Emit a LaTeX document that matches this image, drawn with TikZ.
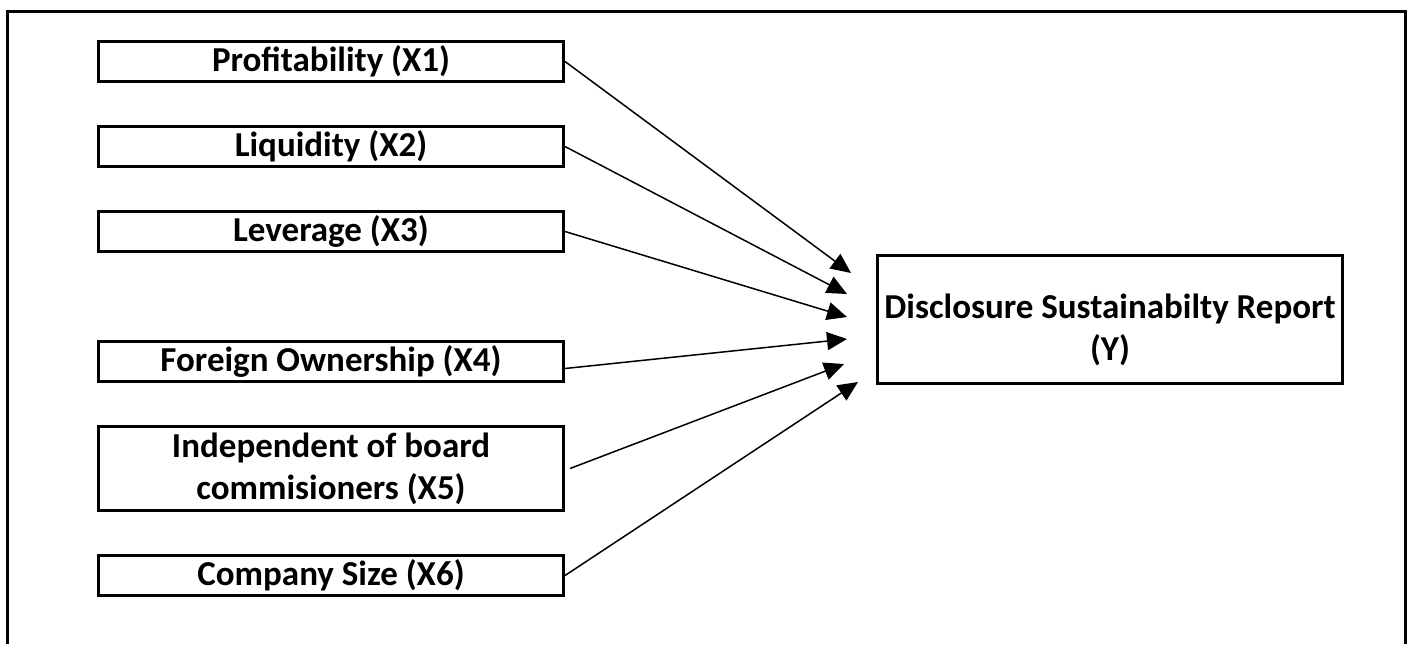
\documentclass[tikz,border=0pt]{standalone}
\usepackage{fontspec}
\setmainfont{Carlito}
\usetikzlibrary{arrows.meta, positioning}

\begin{document}
\begin{tikzpicture}[
    x=0.5pt, y=-0.5pt,
    varbox/.style={rectangle, draw=black, fill=white, line width=1.5pt, minimum width=232.5pt, minimum height=20pt, inner xsep=2pt, inner ysep=0pt, align=center, font=\fontsize{17.5}{21}\selectfont\bfseries},
    line/.style={draw=black, line width=0.75pt, -{Triangle[length=10pt, width=9pt]}}
]
    \useasboundingbox (0,0) rectangle (1409,644);
    \draw[line width=1.5pt] (7,644) -- (7,11) -- (1405,11) -- (1405,644);

    \node[varbox] (x1) at (331,61.5) {Profitability (X1)};
    \node[varbox, below=21pt of x1] (x2) {Liquidity (X2)};
    \node[varbox, below=21pt of x2] (x3) {Leverage (X3)};
    \node[varbox, below=43.5pt of x3] (x4) {Foreign Ownership (X4)};
    \node[varbox, below=21pt of x4, minimum height=42pt] (x5) {Independent of board\\commisioners (X5)};
    \node[varbox, below=21pt of x5] (x6) {Company Size (X6)};

    \node[varbox, minimum height=64pt] (y) at (1110,319.5) {\rule{0pt}{22.5pt}Disclosure Sustainabilty Report\\(Y)};

    % Connections
    \draw[line] (x1.east) -- ([shift={(-25,-46.5)}]y.west);
    \draw[line] (x2.east) -- ([shift={(-29,-25.5)}]y.west);
    \draw[line] (x3.east) -- ([shift={(-29,-2.5)}]y.west);
    \draw[line] ([yshift=-3.5pt]x4.east) -- ([shift={(-29,19.5)}]y.west);
    \draw[line] ([xshift=2.5pt]x5.east) -- ([shift={(-32,44.5)}]y.west);
    \draw[line] (x6.east) -- ([shift={(-18,62.5)}]y.west);
\end{tikzpicture}
\end{document}
